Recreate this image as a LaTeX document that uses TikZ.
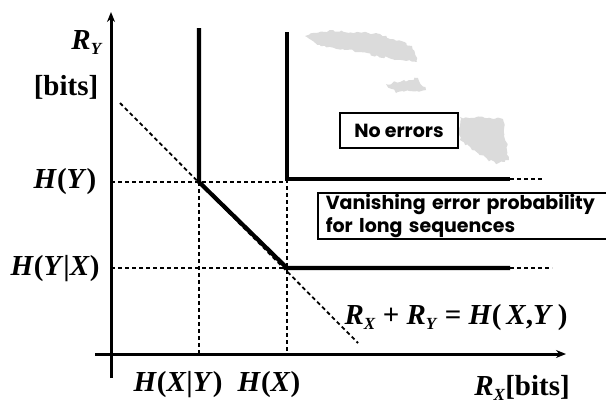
\documentclass[tikz,border=0pt]{standalone}
\usepackage{fontspec}
\setmainfont{Liberation Serif}
\newfontfamily\boxfont{Poppins}
\usetikzlibrary{arrows.meta,decorations.pathmorphing}
\begin{document}
\begin{tikzpicture}[x=1pt,y=-1pt,
  axis/.style={line width=3pt,-{Stealth[length=10pt,width=8pt]}},
  bound/.style={line width=4.2pt},
  guide/.style={line width=1.8pt,dash pattern=on 4pt off 3pt},
  lbl/.style={font=\fontsize{29}{31}\selectfont\bfseries,inner sep=0pt},
  tbox/.style={draw,line width=1.6pt,font=\boxfont\bfseries\fontsize{19}{23}\selectfont,inner sep=0pt},
  noise/.style={fill=gray!28,decorate,decoration={random steps,segment length=3pt,amplitude=1.5pt}},
]
\useasboundingbox (0,0) rectangle (606,407);

% key points
\coordinate (O) at (111,354);
\coordinate (ytop) at (111,12);
\coordinate (ybot) at (111,378);
\coordinate (xl) at (95,354);
\coordinate (xr) at (566,354);
\coordinate (A) at (199,182);
\coordinate (Atop) at (199,28);
\coordinate (Abot) at (199,354);
\coordinate (B) at (287,268);
\coordinate (Bend) at (510,268);
\coordinate (Bdash) at (552,268);
\coordinate (C) at (287,179);
\coordinate (Cg) at (287,182);
\coordinate (Ctop) at (287,32);
\coordinate (Cend) at (510,179);
\coordinate (Cdash) at (542,179);
\coordinate (Xbot) at (287,354);
\coordinate (HY) at (111,182);
\coordinate (HYX) at (111,268);
\coordinate (D1) at (120,103);
\coordinate (D2) at (358,343);

% shaded noise
\path[noise] (305,36) -- (330,30) -- (380,34) -- (412,46) -- (417,62) -- (395,60) -- (360,52) -- (320,45) -- cycle;
\path[noise] (386,84) -- (418,78) -- (426,90) -- (396,93) -- cycle;
\path[noise] (460,117) -- (503,119) -- (509,160) -- (496,164) -- (472,150) -- (460,140) -- cycle;

% guides
\draw[guide] (HY) -- (Cg);
\draw[guide] (HYX) -- (B);
\draw[guide] (A) -- (Abot);
\draw[guide] (C) -- (Xbot);
\draw[guide] (D1) -- (D2);
\draw[guide] (Cend) -- (Cdash);
\draw[guide] (Bend) -- (Bdash);

% axes
\draw[axis] (ybot) -- (ytop);
\draw[axis] (xl) -- (xr);

% region boundaries
\draw[bound,line join=miter] (Atop) -- (A) -- (B) -- (Bend);
\draw[bound,line join=miter] (Ctop) -- (C) -- (Cend);

% labels
\node[lbl] (ry) at (87,43) {\textit{R}\raisebox{-5pt}{\fontsize{17}{17}\selectfont\textit{Y}}};
\node[lbl] (bits) at (66,87) {[bits]};
\node[lbl] (hy) at (65,182) {\textit{H}(\textit{Y})};
\node[lbl] (hyx) at (55,269) {\textit{H}(\textit{Y}|\textit{X})};
\node[lbl] (hxy) at (178,385) {\textit{H}(\textit{X}|\textit{Y})};
\node[lbl] (hx) at (269,385) {\textit{H}(\textit{X})};
\node[lbl] (rx) at (522,388) {\textit{R}\raisebox{-5pt}{\fontsize{17}{17}\selectfont\textit{X}}[bits]};
\node[lbl] (eq) at (456,318) {\textit{R}\raisebox{-5pt}{\fontsize{17}{17}\selectfont\textit{X}} + \textit{R}\raisebox{-5pt}{\fontsize{17}{17}\selectfont\textit{Y}} = \textit{H}(\,\textit{X},\textit{Y}\,)};

% boxes
\node[tbox,minimum width=118,minimum height=35] (noerr) at (399,130.5) {No errors};
\node[tbox,anchor=north west,minimum width=300,minimum height=46,align=left,text width=288,inner xsep=8pt] (vanish) at (317,192) {Vanishing error probability\\for long sequences};
\end{tikzpicture}
\end{document}
